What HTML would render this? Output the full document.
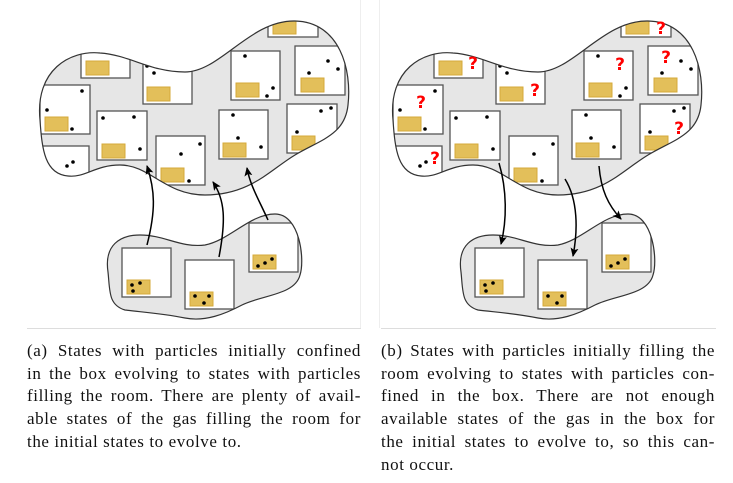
<!DOCTYPE html>
<html><head><meta charset="utf-8"><style>
html,body{margin:0;padding:0;background:#fff;width:733px;height:483px;overflow:hidden}
.cap{position:absolute;font-family:"Liberation Serif",serif;font-size:17px;letter-spacing:0.6px;line-height:22.7px;color:#111;width:334px}
.cap div{text-align:justify;text-align-last:justify;white-space:nowrap}
.cap div.l{text-align-last:left}
</style></head><body>
<svg width="733" height="483" style="position:absolute;left:0;top:0">
<defs>
<path id="big" d="M40,120 C35,70 70,50 100,53 C130,55 150,72 185,72 C220,72 250,20 295,21 C340,22 352,70 348,105 C345,135 320,140 295,155 C270,170 250,195 205,195 C165,195 150,165 120,165 C95,165 85,178 68,176 C45,174 42,150 40,120 Z"/>
<path id="small" d="M108,272 C104,245 120,235 140,235 C165,235 180,248 205,245 C230,240 250,214 275,214 C300,214 305,260 300,275 C295,295 262,295 242,305 C225,314 205,322 185,318 C160,313 140,312 125,310 C108,305 110,290 108,272 Z"/>
<clipPath id="cb"><use href="#big"/></clipPath>
<clipPath id="cs"><use href="#small"/></clipPath>
<marker id="ah" markerWidth="10" markerHeight="10" refX="8" refY="5" orient="auto" markerUnits="userSpaceOnUse"><path d="M0,1 L9,5 L0,9 L2,5 Z" fill="#000"/></marker>
<g id="bigc">
<use href="#big" fill="#e6e6e6"/>
<g clip-path="url(#cb)" stroke="#555" stroke-width="1.3" fill="#fff">
<rect x="81" y="45" width="49" height="33"/><rect x="143" y="63" width="49" height="41"/>
<rect x="231" y="51" width="49" height="49"/><rect x="295" y="46" width="50" height="49"/>
<rect x="40" y="85" width="50" height="49"/><rect x="97" y="111" width="50" height="49"/>
<rect x="156" y="136" width="49" height="49"/><rect x="219" y="110" width="49" height="49"/>
<rect x="287" y="104" width="50" height="49"/><rect x="38" y="146" width="51" height="49"/>
<rect x="268" y="5" width="50" height="32"/>
<g fill="#e3bf5a" stroke="#d4aa3a" stroke-width="1">
<rect x="86" y="61" width="23" height="14"/><rect x="147" y="87" width="23" height="14"/>
<rect x="236" y="83" width="23" height="14"/><rect x="301" y="78" width="23" height="14"/>
<rect x="45" y="117" width="23" height="14"/><rect x="102" y="144" width="23" height="14"/>
<rect x="161" y="168" width="23" height="14"/><rect x="223" y="143" width="23" height="14"/>
<rect x="292" y="136" width="23" height="14"/><rect x="273" y="20" width="23" height="14"/>
</g>
<g fill="#000" stroke="none">
<circle cx="147" cy="66" r="1.8"/><circle cx="154" cy="73" r="1.8"/>
<circle cx="245" cy="56" r="1.8"/><circle cx="273" cy="88" r="1.8"/><circle cx="267" cy="96" r="1.8"/>
<circle cx="328" cy="61" r="1.8"/><circle cx="338" cy="69" r="1.8"/><circle cx="309" cy="73" r="1.8"/>
<circle cx="82" cy="91" r="1.8"/><circle cx="47" cy="110" r="1.8"/><circle cx="72" cy="129" r="1.8"/>
<circle cx="103" cy="118" r="1.8"/><circle cx="134" cy="117" r="1.8"/><circle cx="140" cy="149" r="1.8"/>
<circle cx="200" cy="144" r="1.8"/><circle cx="181" cy="154" r="1.8"/><circle cx="189" cy="181" r="1.8"/>
<circle cx="233" cy="115" r="1.8"/><circle cx="238" cy="138" r="1.8"/><circle cx="261" cy="147" r="1.8"/>
<circle cx="321" cy="111" r="1.8"/><circle cx="331" cy="108" r="1.8"/><circle cx="297" cy="132" r="1.8"/>
<circle cx="67" cy="166" r="1.8"/><circle cx="73" cy="162" r="1.8"/>
</g></g>
<use href="#big" fill="none" stroke="#333" stroke-width="1.2"/>
</g>
<g id="smallc">
<use href="#small" fill="#e6e6e6"/>
<g clip-path="url(#cs)" stroke="#555" stroke-width="1.3" fill="#fff">
<rect x="122" y="248" width="49" height="49"/><rect x="185" y="260" width="49" height="49"/><rect x="249" y="223" width="49" height="49"/>
<g fill="#e3bf5a" stroke="#d4aa3a" stroke-width="1">
<rect x="127" y="280" width="23" height="14"/><rect x="190" y="292" width="23" height="14"/><rect x="253" y="255" width="23" height="14"/>
</g>
<g fill="#000" stroke="none">
<circle cx="132" cy="285" r="1.8"/><circle cx="140" cy="283" r="1.8"/><circle cx="133" cy="291" r="1.8"/>
<circle cx="195" cy="296" r="1.8"/><circle cx="209" cy="296" r="1.8"/><circle cx="204" cy="303" r="1.8"/>
<circle cx="258" cy="266" r="1.8"/><circle cx="265" cy="263" r="1.8"/><circle cx="272" cy="259" r="1.8"/>
</g></g>
<use href="#small" fill="none" stroke="#333" stroke-width="1.2"/>
</g>
</defs>
<line x1="360.5" y1="0" x2="360.5" y2="328" stroke="#eee"/>
<line x1="379.5" y1="0" x2="379.5" y2="328" stroke="#eee"/>
<line x1="27" y1="328.5" x2="361" y2="328.5" stroke="#ddd"/>
<line x1="381" y1="328.5" x2="716" y2="328.5" stroke="#ddd"/>
<use href="#bigc"/><use href="#smallc"/>
<g fill="none" stroke="#000" stroke-width="1.5" marker-end="url(#ah)">
<path d="M147,245 C156,210 155,190 147,166"/>
<path d="M219,257 C226,220 225,200 213,182"/>
<path d="M268,220 C258,198 250,185 247,168"/>
</g>
<g transform="translate(353,0)"><use href="#bigc"/><use href="#smallc"/></g>
<g fill="none" stroke="#000" stroke-width="1.5" marker-end="url(#ah)">
<path d="M499,163 C507,190 507,220 501,244"/>
<path d="M565,179 C578,200 578,230 573,256"/>
<path d="M599,166 C601,190 608,205 621,219"/>
</g>
<g fill="#f00" font-family="DejaVu Sans,sans-serif" font-weight="bold" font-size="17" text-anchor="middle">
<text x="473" y="69">?</text><text x="535" y="96">?</text><text x="620" y="70">?</text>
<text x="666" y="63">?</text><text x="421" y="108">?</text><text x="679" y="134">?</text>
<text x="435" y="164">?</text><text x="661" y="34">?</text>
</g>
</svg>
<div class="cap" style="left:27px;top:340px">
<div>(a) States with particles initially confined</div>
<div>in the box evolving to states with particles</div>
<div>filling the room. There are plenty of avail-</div>
<div>able states of the gas filling the room for</div>
<div class="l">the initial states to evolve to.</div>
</div>
<div class="cap" style="left:381px;top:340px">
<div>(b) States with particles initially filling the</div>
<div>room evolving to states with particles con-</div>
<div>fined in the box. There are not enough</div>
<div>available states of the gas in the box for</div>
<div>the initial states to evolve to, so this can-</div>
<div class="l">not occur.</div>
</div>
</body></html>
